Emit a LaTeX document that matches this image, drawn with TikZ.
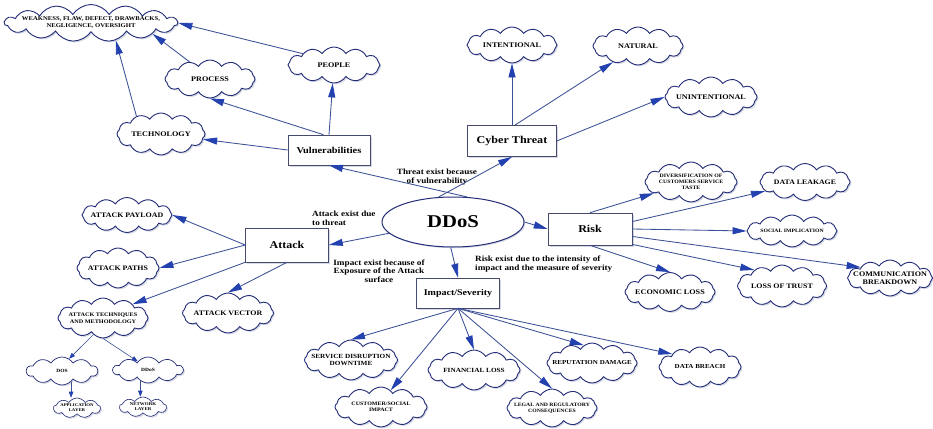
\documentclass[tikz,border=0pt]{standalone}
\usepackage{fontspec}
\setmainfont{Liberation Serif}[FakeStretch=1.15]
\usetikzlibrary{shapes.symbols,shapes.geometric,shadows,arrows.meta}
\definecolor{cloudline}{RGB}{35,45,120}
\definecolor{conn}{RGB}{60,80,150}
\definecolor{tipfill}{RGB}{35,65,175}
\definecolor{boxline}{RGB}{70,75,110}
\definecolor{shade}{RGB}{175,180,200}
\begin{document}
\begin{tikzpicture}[x=1pt,y=-1pt,
  cloudbase/.style={cloud, cloud puffs=12, cloud puff arc=115, cloud ignores aspect,
    draw=cloudline, line width=0.9pt, fill=white, inner sep=0pt,
    drop shadow={shadow xshift=1.4pt, shadow yshift=-1.4pt, fill=shade}},
  cl/.style 2 args={cloudbase, minimum width=#1pt, minimum height=#2pt},
  cf/.style 2 args={font=\fontsize{#1}{#2}\selectfont\bfseries, align=center, inner sep=0pt, text=black},
  box/.style n args={3}{draw=boxline, line width=0.6pt, fill=white, rectangle,
    minimum width=#1pt, minimum height=#2pt, font=\fontsize{#3}{#3}\selectfont\bfseries,
    drop shadow={shadow xshift=1.8pt, shadow yshift=-1.8pt, fill=shade}},
  lab/.style={font=\fontsize{8}{8.5}\selectfont\bfseries, inner sep=0pt},
  arr/.style={draw=conn, line width=0.85pt, -{Triangle[length=14pt,width=7pt,fill=tipfill,color=tipfill]}},
  arrs/.style={draw=conn, line width=0.6pt, -{Triangle[length=6pt,width=4.5pt,fill=tipfill,color=tipfill]}}
]
\useasboundingbox (0,0) rectangle (933,428);
\fill[white] (0,0) rectangle (933,428);

% central nodes
\node[ellipse, draw=cloudline, line width=1pt, fill=white, minimum width=142pt, minimum height=50pt,
  font=\fontsize{18}{18}\selectfont\bfseries,
  drop shadow={shadow xshift=1.2pt, shadow yshift=-1.2pt, fill=shade}] (ddos) at (453,222) {DDoS};
\node[box={82}{30}{9}] (vul) at (329,150) {Vulnerabilities};
\node[box={89}{31}{10.5}] (ct) at (512,141) {Cyber Threat};
\node[box={83}{34}{10.4}] (attack) at (287,245) {Attack};
\node[box={84}{32}{10.5}] (risk) at (590,229) {Risk};
\node[box={83}{30}{8.7}] (impact) at (458,293) {Impact/Severity};

% vulnerabilities branch
\node[cl={173}{37}, cloud puffs=15, label={[cf={5.8}{7}]center:{WEAKNESS, FLAW, DEFECT, DRAWBACKS,\\NEGLIGENCE, OVERSIGHT}}] (weak) at (91,23) {};
\node[cl={90}{38}, label={[cf={7.1}{8}]center:PROCESS}] (process) at (210,79) {};
\node[cl={92}{36}, label={[cf={7.1}{8}]center:PEOPLE}] (people) at (334,65) {};
\node[cl={88}{42}, label={[cf={7.1}{8}]center:TECHNOLOGY}] (tech) at (161,134) {};

% cyber threat branch
\node[cl={90}{36}, label={[cf={7.1}{8}]center:INTENTIONAL}] (int) at (512,45) {};
\node[cl={90}{38}, label={[cf={7.1}{8}]center:NATURAL}] (nat) at (638,46) {};
\node[cl={92}{40}, label={[cf={7.1}{8}]center:UNINTENTIONAL}] (unint) at (711,97) {};

% risk branch
\node[cl={92}{40}, label={[cf={5.1}{5.8}]center:{DIVERSIFICATION OF\\CUSTOMERS SERVICE\\TASTE}}] (div) at (691,182) {};
\node[cl={90}{37}, label={[cf={6.8}{8}]center:DATA LEAKAGE}] (leak) at (805,182) {};
\node[cl={90}{32}, label={[cf={5}{6}]center:SOCIAL IMPLICATION}] (social) at (792,231) {};
\node[cl={85}{36}, label={[cf={7}{8.2}]center:{COMMUNICATION\\BREAKDOWN}}] (comm) at (890,278) {};
\node[cl={89}{42}, label={[cf={6.9}{8}]center:LOSS OF TRUST}] (trust) at (782,286) {};
\node[cl={90}{39}, label={[cf={7.1}{8}]center:ECONOMIC LOSS}] (econ) at (670,292) {};

% impact branch
\node[cl={93}{40}, label={[cf={6.3}{7.5}]center:{SERVICE DISRUPTION\\DOWNTIME}}] (serv) at (351,360) {};
\node[cl={92}{40}, label={[cf={5.2}{6.5}]center:{CUSTOMER/SOCIAL\\IMPACT}}] (cust) at (381,407) {};
\node[cl={92}{40}, label={[cf={6.3}{7.5}]center:FINANCIAL LOSS}] (fin) at (474,370) {};
\node[cl={90}{38}, label={[cf={5}{6.3}]center:{LEGAL AND REGULATORY\\CONSEQUENCES}}] (legal) at (552,408) {};
\node[cl={90}{40}, label={[cf={6.1}{7.5}]center:REPUTATION DAMAGE}] (rep) at (592,363) {};
\node[cl={82}{40}, label={[cf={6.1}{7.5}]center:DATA BREACH}] (breach) at (700,367) {};

% attack branch
\node[cl={90}{35}, label={[cf={6.9}{8}]center:ATTACK PAYLOAD}] (payload) at (127,215) {};
\node[cl={82}{40}, label={[cf={6.9}{8}]center:ATTACK PATHS}] (paths) at (118,268) {};
\node[cl={90}{40}, label={[cf={5.4}{7}]center:{ATTACK TECHNIQUES\\AND METHODOLOGY}}] (atech) at (103,318) {};
\node[cl={91}{40}, label={[cf={6.9}{8}]center:ATTACK VECTOR}] (vector) at (228,313) {};
\node[cl={71}{28}, cloud puffs=10, line width=0.7pt, label={[cf={4.8}{5.5}]center:DOS}] (dos) at (62,371) {};
\node[cl={70}{26}, cloud puffs=10, line width=0.7pt, label={[cf={4.8}{5.5}]center:DDoS}] (ddos2) at (148,370) {};
\node[cl={47}{20}, cloud puffs=9, line width=0.6pt, label={[cf={4.2}{5}]center:{APPLICATION\\LAYER}}] (app) at (77,408) {};
\node[cl={47}{20}, cloud puffs=9, line width=0.6pt, label={[cf={4.3}{5}]center:{NETWORK\\LAYER}}] (net) at (143,407) {};

% edge labels
\node[lab, align=center] (tlab) at (437,177) {Threat exist because\\of vulnerability};
\node[lab, align=left, anchor=north west] (alab) at (312,211) {Attack exist due\\to threat};
\node[lab, align=center] (ilab) at (379,271) {Impact exist because of\\Exposure of the Attack\\surface};
\node[lab, align=left, anchor=north west] (rlab) at (475,256) {Risk exist due to the intensity of\\impact and the measure of severity};

% connectors: DDoS
\draw[arr] (ddos.60) -- (vul.south);
\draw[arr] (ddos.120) -- (ct.south);
\draw[arr] (ddos.190) -- (attack.east);
\draw[arr] (ddos.east) -- (risk.west);
\draw[arr] (ddos.-95) -- (impact.north);

% vulnerabilities
\draw[arr] (vul.north) -- (people);
\draw[arr] (vul.110) -- (process.south);
\draw[arr] (vul.west) -- (tech);
\draw[arr] (tech.144) -- (weak.-35);
\draw[arr] (process.140) -- (weak.-10);
\draw[arr] (people.160) -- (weak.east);

% cyber threat
\draw[arr] (ct.north) -- (int.south);
\draw[arr] (ct.80) -- (nat);
\draw[arr] (ct.east) -- (unint.west);

% risk
\draw[arr] (risk.north) -- (div);
\draw[arr] (risk.10) -- (leak);
\draw[arr] (risk.east) -- (social.west);
\draw[arr] (risk.-10) -- (comm.160);
\draw[arr] (risk.-20) -- (trust.150);
\draw[arr] (risk.south) -- (econ.north);

% impact
\draw[arr] (impact.south) -- (serv.north);
\draw[arr] (impact.south) -- (cust.60);
\draw[arr] (impact.south) -- (fin.north);
\draw[arr] (impact.south) -- (legal.north);
\draw[arr] (impact.south) -- (rep.115);
\draw[arr] (impact.south) -- (breach.155);

% attack
\draw[arr] (attack.west) -- (payload.east);
\draw[arr] (attack.west) -- (paths.east);
\draw[arr] (attack.south west) -- (atech.25);
\draw[arr] (attack.south) -- (vector.north);
\draw[arrs] (atech.-120) -- (dos.60);
\draw[arrs] (atech.-90) -- (ddos2.140);
\draw[arrs] (dos.-50) -- (dos.-50 |- app.north);
\draw[arrs] (ddos2.-125) -- (ddos2.-125 |- net.north);
\end{tikzpicture}
\end{document}
